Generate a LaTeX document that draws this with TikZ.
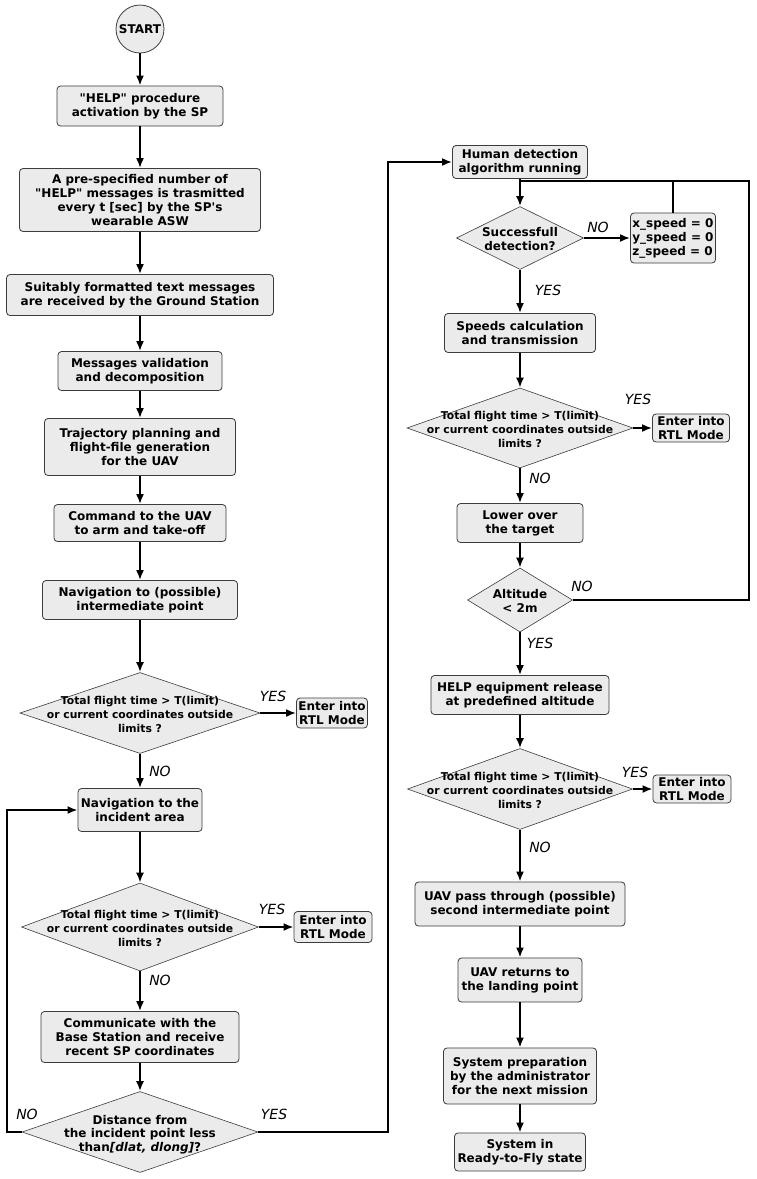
\documentclass[tikz,border=0pt]{standalone}
\usepackage{fontspec}
\setmainfont{DejaVu Sans}[Ligatures=TeXOff]
\usepackage{tikz}
\usetikzlibrary{arrows.meta, shapes}

\definecolor{boxgray}{HTML}{EBEBEB}
\definecolor{edgegray}{HTML}{3C3C3C}
\newcommand{\dtext}[1]{\makebox[0pt]{\smash{\raisebox{-0.5em}{\begin{tabular}{@{}c@{}}#1\end{tabular}}}}}

\begin{document}
\begin{tikzpicture}[x=1pt, y=-1pt,
        box/.style 2 args={rectangle, rounded corners=3.5pt, draw=edgegray, line width=0.8pt,
            fill=boxgray, align=center, inner sep=1pt, minimum width=#1, minimum height=#2,
            font=\bfseries\fontsize{12}{14}\selectfont},
        dec/.style 2 args={diamond, draw=edgegray, line width=0.6pt, fill=boxgray,
            inner sep=0pt, minimum width=#1, minimum height=#2},
        flightfont/.style={font=\bfseries\fontsize{10.8}{13.8}\selectfont},
        askfont/.style={font=\bfseries\fontsize{12}{13.4}\selectfont},
        lbl/.style={font=\itshape\fontsize{14}{16}\selectfont, inner sep=0pt},
        arr/.style={line width=2pt, -{Latex[length=10pt, width=8pt]}},
        wire/.style={line width=2pt}]
    \useasboundingbox (0,0) rectangle (757,1179);

    \node (start) [circle, draw=edgegray, line width=0.8pt, fill=boxgray, minimum size=48pt,
        inner sep=0pt, font=\bfseries\fontsize{12}{14}\selectfont] at (140,29) {START};
    \node (b1) [box={166}{40}] at (140,106) {"HELP" procedure\\activation by the SP};
    \node (b2) [box={241}{63}] at (140,200) {A pre-specified number of\\"HELP" messages is trasmitted\\every t [sec] by the SP's\\wearable ASW};
    \node (b3) [box={267}{41}] at (140,295) {Suitably formatted text messages\\are received by the Ground Station};
    \node (b4) [box={164}{39}] at (140,371) {Messages validation\\and decomposition};
    \node (b5) [box={191}{57}] at (140,447) {Trajectory planning and\\flight-file generation\\for the UAV};
    \node (b6) [box={172}{37}] at (140,523) {Command to the UAV\\to arm and take-off};
    \node (b7) [box={195}{39}] at (140,600) {Navigation to (possible)\\intermediate point};
    \node (d1) [dec={240}{81}, flightfont] at (140,713) {\dtext{Total flight time > T(limit)\\or current coordinates outside\\limits ?}};
    \node (rtl1) [box={71}{30}] at (332,713) {Enter into\\RTL Mode};
    \node (b8) [box={124}{43}] at (140,810) {Navigation to the\\incident area};
    \node (d2) [dec={237}{88}, flightfont] at (140,927) {\dtext{Total flight time > T(limit)\\or current coordinates outside\\limits ?}};
    \node (rtl2) [box={78}{31}] at (333,927) {Enter into\\RTL Mode};
    \node (b9) [box={198}{51}] at (140,1037) {Communicate with the\\Base Station and receive\\recent SP coordinates};
    \node (d3) [dec={236}{81}, askfont] at (140,1132) {\dtext{Distance from\\the incident point less\\than\textit{[dlat, dlong]}?}};

    \node (hd) [box={135}{33}] at (520,162) {Human detection\\algorithm running};
    \node (sd) [dec={127}{63}, askfont] at (520,238) {\dtext{Successfull\\detection?}};
    \node (xs) [box={85}{50}, align=left] at (673,238) {x\_speed = 0\\y\_speed = 0\\z\_speed = 0};
    \node (sc) [box={151}{39}] at (520,333) {Speeds calculation\\and transmission};
    \node (rd1) [dec={226}{80}, flightfont] at (520,428) {\dtext{Total flight time > T(limit)\\or current coordinates outside\\limits ?}};
    \node (rtl3) [box={77}{28}] at (691,428) {Enter into\\RTL Mode};
    \node (lo) [box={126}{39}] at (520,523) {Lower over\\the target};
    \node (alt) [dec={105}{64}, askfont] at (520,600) {\dtext{Altitude\\< 2m}};
    \node (he) [box={178}{39}] at (520,695) {HELP equipment release\\at predefined altitude};
    \node (rd2) [dec={225}{81}, flightfont] at (520,789) {\dtext{Total flight time > T(limit)\\or current coordinates outside\\limits ?}};
    \node (rtl4) [box={78}{28}] at (692,789) {Enter into\\RTL Mode};
    \node (up) [box={210}{44}] at (520,904) {UAV pass through (possible)\\second intermediate point};
    \node (ur) [box={124}{44}] at (520,980) {UAV returns to\\the landing point};
    \node (sp) [box={153}{56}] at (520,1076) {System preparation\\by the administrator\\for the next mission};
    \node (rf) [box={131}{38}] at (520,1152) {System in\\Ready-to-Fly state};

    \coordinate (merge) at (520,181);

    \path[arr]
        (start) edge (b1)
        (b1) edge (b2)
        (b2) edge (b3)
        (b3) edge (b4)
        (b4) edge (b5)
        (b5) edge (b6)
        (b6) edge (b7)
        (b7) edge (d1)
        (d1) edge (rtl1)
             edge (b8)
        (b8) edge (d2)
        (d2) edge (rtl2)
             edge (b9)
        (b9) edge (d3)
        (hd) edge (sd)
        (sd) edge (xs)
             edge (sc)
        (sc) edge (rd1)
        (rd1) edge (rtl3)
              edge (lo)
        (lo) edge (alt)
        (alt) edge (he)
        (he) edge (rd2)
        (rd2) edge (rtl4)
              edge (up)
        (up) edge (ur)
        (ur) edge (sp)
        (sp) edge (rf);

    \draw[arr] (d3.west) -- ++(-15,0) |- (b8.west);
    \draw[arr] (d3.east) -- ++(130,0) |- (hd.west);
    \draw[wire] (alt.east) -- ++(176,0) |- (merge);
    \draw[wire] (xs) -- (xs |- merge);

    \node (yes1) [lbl] at (273,696) {YES};
    \node (no1) [lbl] at (160,771) {NO};
    \node (yes2) [lbl] at (272,909) {YES};
    \node (no2) [lbl] at (160,980) {NO};
    \node (no3) [lbl] at (27,1114) {NO};
    \node (yes3) [lbl] at (274,1114) {YES};
    \node (no4) [lbl] at (598,227) {NO};
    \node (yes4) [lbl] at (548,290) {YES};
    \node (yes5) [lbl] at (638,399) {YES};
    \node (no5) [lbl] at (540,478) {NO};
    \node (no6) [lbl] at (582,586) {NO};
    \node (yes6) [lbl] at (540,643) {YES};
    \node (yes7) [lbl] at (635,772) {YES};
    \node (no7) [lbl] at (540,847) {NO};
\end{tikzpicture}
\end{document}
